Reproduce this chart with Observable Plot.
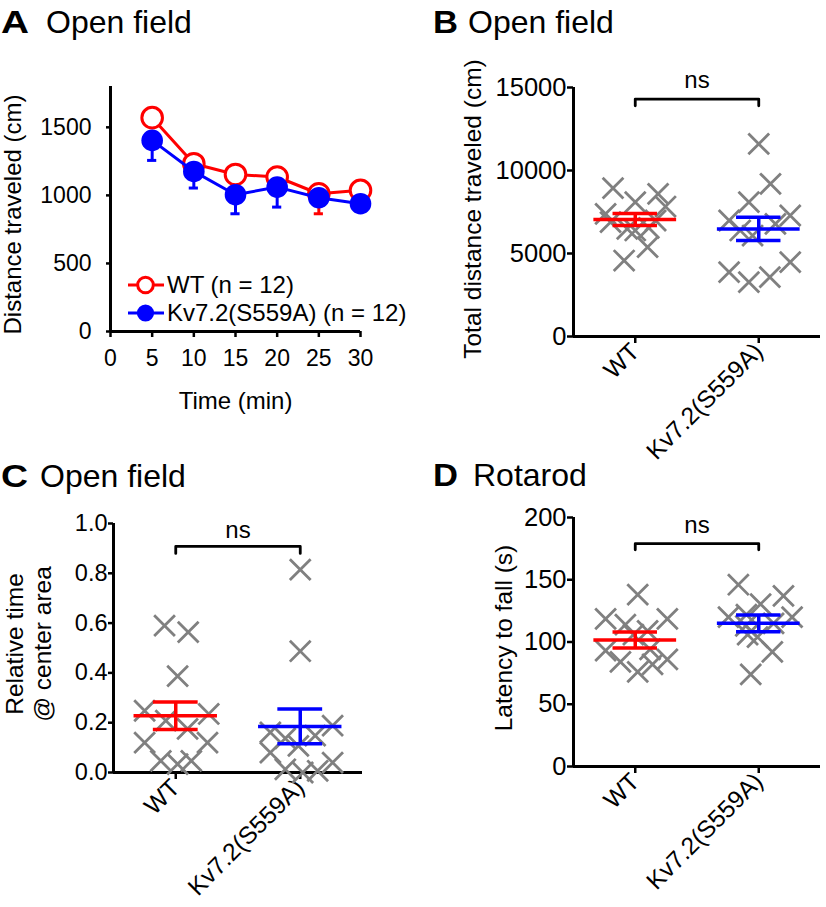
<!DOCTYPE html>
<html>
<head>
<meta charset="utf-8">
<script src="https://cdn.jsdelivr.net/npm/d3@7"></script>
<script src="https://cdn.jsdelivr.net/npm/@observablehq/plot@0.6"></script>
<style>
  body { margin: 0; background: #fff; }
  #fig { position: relative; width: 826px; height: 907px; overflow: hidden; background: #fff;
         font-family: "Liberation Sans", Arial, Helvetica, sans-serif; }
</style>
</head>
<body>
<div id="fig"></div>
<script>
// ---------------- data ----------------
const groups = ["WT", "Kv7.2(S559A)"];
const groupColors = ["#ff0000", "#0000ff"];
const sigLabel = "ns";

// Panel A: open field, distance per 5-min bin
const timeMin = [5, 10, 15, 20, 25, 30];
const wtDistance = [1571, 1233, 1154, 1135, 1012, 1037];
const wtDistanceSem = [55, 65, 70, 75, 147, 65];
const kvDistance = [1404, 1176, 1005, 1061, 983, 939];
const kvDistanceSem = [147, 122, 140, 147, 60, 50];
const distTicks = [0, 500, 1000, 1500];
const timeTicks = [0, 5, 10, 15, 20, 25, 30];
const legendLabels = ["WT (n = 12)", "Kv7.2(S559A) (n = 12)"];

// Panel B: total distance
const totalWT = [8934, 7392, 8090, 8596, 7831, 6886, 6486, 6386, 6546, 6988, 5381, 4578];
const totalWTSpread = [-0.18, -0.24, 0, 0.185, 0.245, -0.2, -0.065, 0, 0.11, 0.165, 0.1, -0.09];
const totalKv = [11600, 9197, 8090, 6988, 7289, 6386, 6084, 6787, 3876, 3273, 3574, 4478];
const totalKvSpread = [0, 0.095, -0.08, -0.24, 0.255, -0.15, -0.05, 0.135, -0.24, -0.08, 0.09, 0.255];
const totalMean = [7050, 6480];
const totalSem = [360, 700];
const totalTicks = [0, 5000, 10000, 15000];
const totalBracket = [14300, 13900];

// Panel C: relative time in center
const centerWT = [0.59, 0.564, 0.387, 0.248, 0.235, 0.208, 0.175, 0.12, 0.12, 0.047, 0.034, 0.047];
const centerWTSpread = [-0.09, 0.1, 0.015, -0.25, 0.265, -0.08, 0.095, -0.25, 0.255, -0.12, 0.015, 0.125];
const centerKv = [0.815, 0.487, 0.161, 0.137, 0.107, 0.148, 0.188, 0.08, 0.013, 0.0, 0.007, 0.04];
const centerKvSpread = [0, 0, -0.24, -0.12, -0.015, 0.12, 0.26, -0.24, -0.12, 0.02, 0.14, 0.26];
const centerMean = [0.228, 0.185];
const centerSem = [0.055, 0.07];
const centerTicks = [0, 0.2, 0.4, 0.6, 0.8, 1.0];
const centerBracket = [0.908, 0.88];

// Panel D: rotarod latency
const latencyWT = [138, 118.5, 114, 109, 118.5, 93, 84, 76, 82, 86, 106, 94];
const latencyWTSpread = [0.02, -0.24, -0.08, 0.1, 0.26, -0.24, -0.12, 0.02, 0.14, 0.26, -0.015, 0.12];
const latencyKv = [146, 137, 130.5, 120, 120, 113, 115, 104, 106, 92, 74, 122];
const latencyKvSpread = [-0.165, 0.2, 0.015, -0.245, 0.27, -0.105, 0.12, -0.01, -0.09, 0.11, -0.065, -0.1];
const latencyMean = [101.6, 115];
const latencySem = [6.5, 6.7];
const latencyTicks = [0, 50, 100, 150, 200];
const latencyBracket = [179, 174];

const panelLetters = ["A", "B", "C", "D"];
const panelTitles = ["Open field", "Open field", "Open field", "Rotarod"];

// ---------------- drawing ----------------
const FONT = '"Liberation Sans", Arial, Helvetica, sans-serif';
const fig = document.getElementById("fig");
function place(node, left, top) {
  node.style.position = "absolute";
  node.style.left = left + "px";
  node.style.top = top + "px";
  fig.appendChild(node);
}
const baseStyle = {fontFamily: FONT, background: "transparent", overflow: "visible", color: "#000"};

// Panel A
const rowsA = timeMin.map((t, i) => ({
  t, wt: wtDistance[i], wtSem: wtDistanceSem[i], kv: kvDistance[i], kvSem: kvDistanceSem[i]
}));
const capHalfA = 0.55;
const plotA = Plot.plot({
  width: 413, height: 440,
  marginLeft: 110, marginRight: 53, marginTop: 86, marginBottom: 109,
  style: {...baseStyle, fontSize: "23px"},
  x: {domain: [0, 30], axis: null},
  y: {domain: [0, 1800], axis: null},
  marks: [
    Plot.axisY({ticks: distTicks, tickFormat: d => String(d), tickSize: 4, tickPadding: 15,
      strokeWidth: 2.5, fontSize: 23, label: null}),
    Plot.axisX({ticks: timeTicks, tickFormat: d => String(d), tickSize: 6, tickPadding: 12,
      strokeWidth: 2.5, fontSize: 23, label: null}),
    Plot.ruleX([0], {y1: () => 0, y2: () => 1800, strokeWidth: 3}),
    Plot.ruleY([0], {strokeWidth: 3}),
    // WT
    Plot.ruleX(rowsA, {x: "t", y1: "wt", y2: d => d.wt - d.wtSem, stroke: groupColors[0], strokeWidth: 3}),
    Plot.ruleY(rowsA, {y: d => d.wt - d.wtSem, x1: d => d.t - capHalfA, x2: d => d.t + capHalfA, stroke: groupColors[0], strokeWidth: 3}),
    Plot.line(rowsA, {x: "t", y: "wt", stroke: groupColors[0], strokeWidth: 3}),
    Plot.dot(rowsA, {x: "t", y: "wt", r: 10.3, fill: "white", stroke: groupColors[0], strokeWidth: 3}),
    // Kv7.2
    Plot.ruleX(rowsA, {x: "t", y1: "kv", y2: d => d.kv - d.kvSem, stroke: groupColors[1], strokeWidth: 3}),
    Plot.ruleY(rowsA, {y: d => d.kv - d.kvSem, x1: d => d.t - capHalfA, x2: d => d.t + capHalfA, stroke: groupColors[1], strokeWidth: 3}),
    Plot.line(rowsA, {x: "t", y: "kv", stroke: groupColors[1], strokeWidth: 3}),
    Plot.dot(rowsA, {x: "t", y: "kv", r: 10.8, fill: groupColors[1]}),
    // axis titles
    Plot.text(["Distance traveled (cm)"], {text: d => d, frameAnchor: "left", textAnchor: "middle",
      rotate: -90, dx: -97.5, dy: 5.5, fontSize: 24}),
    Plot.text(["Time (min)"], {text: d => d, frameAnchor: "bottom", textAnchor: "middle", lineAnchor: "bottom",
      dy: 77, fontSize: 24})
  ]
});
place(plotA, 0, 0);

function groupPanel(cfg) {
  const pts = [];
  cfg.values.forEach((vals, g) => vals.forEach((v, k) => pts.push({g, x: g + cfg.spread[g][k], v})));
  const [y0, y1] = cfg.yDomain;
  const marks = [
    Plot.axisY({ticks: cfg.yTicks, tickFormat: cfg.tickFormat, tickSize: cfg.yTickSize, tickPadding: cfg.yTickPadding,
      strokeWidth: 2.5, fontSize: cfg.yFont, label: null}),
    Plot.axisX({ticks: [0, 1], tickFormat: i => groups[i], tickRotate: -45, tickSize: 7, tickPadding: cfg.xTickPadding,
      strokeWidth: 2.5, fontSize: 24.5, label: null}),
    Plot.ruleX([-0.5], {y1: () => y0, y2: () => y1, strokeWidth: 3}),
    Plot.ruleY([y0], {strokeWidth: 3}),
    Plot.dot(pts, {x: "x", y: "v", symbol: "times", r: 9.5, stroke: "#808080", strokeWidth: 2.8})
  ];
  groups.forEach((_, g) => {
    const m = cfg.means[g], s = cfg.sems[g], c = groupColors[g];
    marks.push(
      Plot.ruleY([m], {x1: () => g - 0.335, x2: () => g + 0.335, stroke: c, strokeWidth: 3.5}),
      Plot.ruleY([m - s, m + s], {x1: () => g - 0.18, x2: () => g + 0.18, stroke: c, strokeWidth: 3.5}),
      Plot.ruleX([g], {y1: () => m - s, y2: () => m + s, stroke: c, strokeWidth: 3.5})
    );
  });
  const [bTop, bLow] = cfg.bracket;
  marks.push(
    Plot.line([[0, bLow], [0, bTop], [1, bTop], [1, bLow]], {strokeWidth: 2.8}),
    Plot.text([sigLabel], {text: d => d, x: () => 0.5, y: () => bTop, dy: cfg.nsDy, lineAnchor: "bottom", fontSize: 24}),
    Plot.text([cfg.label], {text: d => d, frameAnchor: "left", textAnchor: "middle", lineAnchor: "middle",
      rotate: -90, dx: cfg.labelDx, dy: cfg.labelDy, fontSize: 24.5, lineHeight: 1.12})
  );
  return Plot.plot({
    width: 413, height: cfg.height,
    marginLeft: cfg.margins[0], marginRight: cfg.margins[1], marginTop: cfg.margins[2], marginBottom: cfg.margins[3],
    style: {...baseStyle, fontSize: "24px"},
    x: {domain: [-0.5, 1.5], axis: null},
    y: {domain: cfg.yDomain, axis: null},
    marks
  });
}

const plotB = groupPanel({
  values: [totalWT, totalKv], spread: [totalWTSpread, totalKvSpread],
  means: totalMean, sems: totalSem, yDomain: [0, 15000], yTicks: totalTicks, tickFormat: d => String(d),
  yTickSize: 6, yTickPadding: 1, yFont: 25.5, xTickPadding: 4, bracket: totalBracket, nsDy: -11,
  label: "Total distance traveled (cm)", labelDx: -101.5, labelDy: -3,
  height: 440, margins: [160, 6, 87, 104]
});
place(plotB, 413, 0);

const plotC = groupPanel({
  values: [centerWT, centerKv], spread: [centerWTSpread, centerKvSpread],
  means: centerMean, sems: centerSem, yDomain: [0, 1], yTicks: centerTicks, tickFormat: d3.format(".1f"),
  yTickSize: 5, yTickPadding: 1, yFont: 23.5, xTickPadding: 4, bracket: centerBracket, nsDy: -8,
  label: "Relative time\n@ center area", labelDx: -85.5, labelDy: -4,
  height: 467, margins: [113, 51, 83, 135]
});
place(plotC, 0, 440);

const plotD = groupPanel({
  values: [latencyWT, latencyKv], spread: [latencyWTSpread, latencyKvSpread],
  means: latencyMean, sems: latencySem, yDomain: [0, 200], yTicks: latencyTicks, tickFormat: d => String(d),
  yTickSize: 6, yTickPadding: 1, yFont: 25.5, xTickPadding: 4, bracket: latencyBracket, nsDy: -11,
  label: "Latency to fall (s)", labelDx: -70, labelDy: -4,
  height: 467, margins: [160, 6, 77, 141]
});
place(plotD, 413, 440);

// overlay: panel titles and legend of panel A
const titlePos = [[1, 33, 28, 46], [433, 33, 25, 468], [1, 487, 27, 40], [433, 486, 25, 473]];
const ov = d3.create("svg").attr("width", 826).attr("height", 907)
  .style("font-family", FONT).style("pointer-events", "none").style("overflow", "visible");
panelLetters.forEach((L, i) => {
  const [x, y, w, tx] = titlePos[i];
  ov.append("text").attr("x", x).attr("y", y).attr("font-size", 31).attr("font-weight", "bold")
    .attr("textLength", w).attr("lengthAdjust", "spacingAndGlyphs").text(L);
  ov.append("text").attr("x", tx).attr("y", y).attr("font-size", 32).text(panelTitles[i]);
});
const legRows = [285, 313];
legendLabels.forEach((lab, i) => {
  const y = legRows[i];
  ov.append("line").attr("x1", 128).attr("x2", 164).attr("y1", y).attr("y2", y)
    .attr("stroke", groupColors[i]).attr("stroke-width", 3);
  const c = ov.append("circle").attr("cx", 145.5).attr("cy", y).attr("r", i === 0 ? 7.8 : 8.6);
  if (i === 0) c.attr("fill", "white").attr("stroke", groupColors[0]).attr("stroke-width", 3);
  else c.attr("fill", groupColors[1]);
  ov.append("text").attr("x", 167).attr("y", y + 8.3).attr("font-size", 24).text(lab);
});
place(ov.node(), 0, 0);
</script>
</body>
</html>
